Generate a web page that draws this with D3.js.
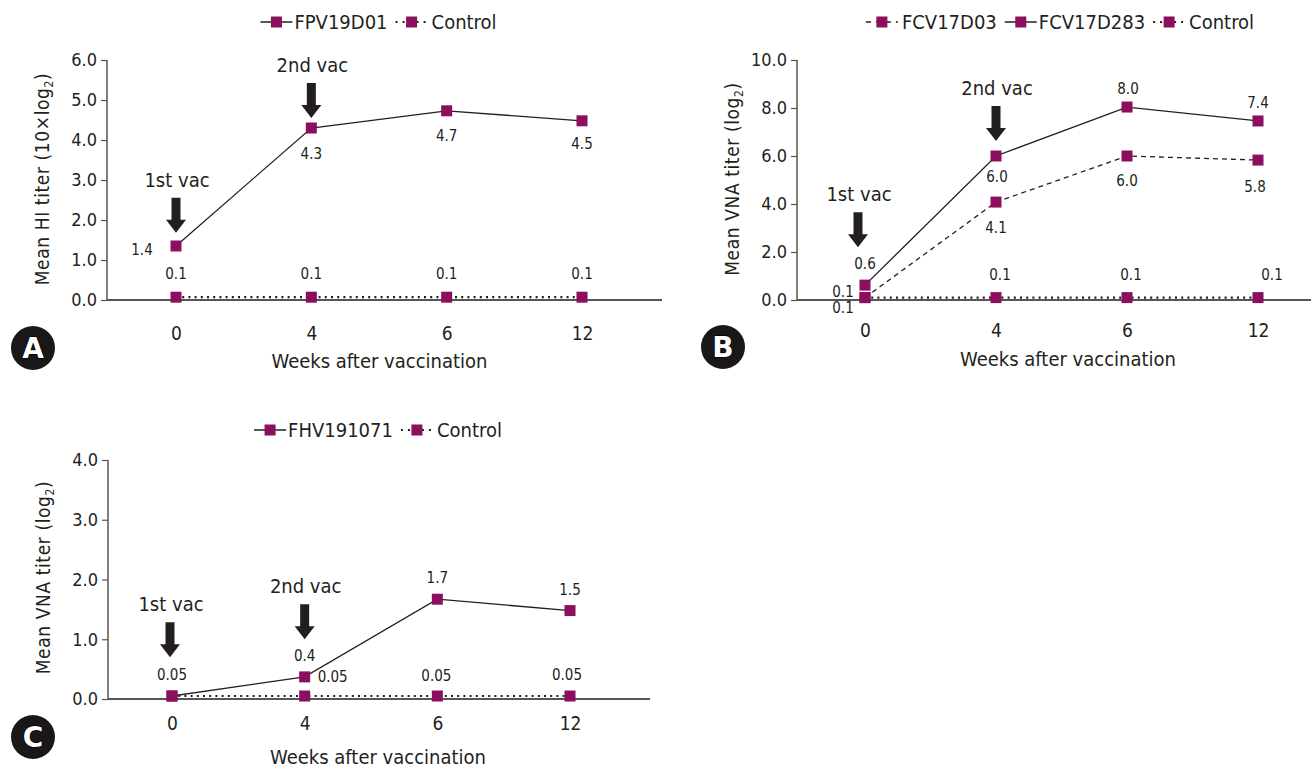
<!DOCTYPE html>
<html>
<head>
<meta charset="utf-8">
<script src="https://cdn.jsdelivr.net/npm/d3@7"></script>
<style>
  body { margin:0; background:#fff; }
  svg { display:block; }
  text { font-family: "Liberation Sans Narrow","DejaVu Sans Condensed","Roboto Condensed","Liberation Sans",sans-serif; fill:#231f20; }
</style>
</head>
<body>
<svg id="chart" width="1311" height="768"></svg>
<script>
// ---------------- DATA ----------------
const weeks = ["0", "4", "6", "12"];

// Panel A
const aTicks = [0, 1, 2, 3, 4, 5, 6];
const aFPV19D01 = [1.35, 4.3, 4.73, 4.48];
const aFPV19D01Labels = ["1.4", "4.3", "4.7", "4.5"];
const aControl = [0.07, 0.07, 0.07, 0.07];
const aControlLabels = ["0.1", "0.1", "0.1", "0.1"];

// Panel B
const bTicks = [0, 2, 4, 6, 8, 10];
const bFCV17D03 = [0.1, 4.08, 6.0, 5.83];
const bFCV17D03Labels = ["0.1", "4.1", "6.0", "5.8"];
const bFCV17D283 = [0.62, 6.0, 8.04, 7.46];
const bFCV17D283Labels = ["0.6", "6.0", "8.0", "7.4"];
const bControl = [0.1, 0.1, 0.1, 0.1];
const bControlLabels = ["0.1", "0.1", "0.1", "0.1"];

// Panel C
const cTicks = [0, 1, 2, 3, 4];
const cFHV191071 = [0.05, 0.37, 1.67, 1.48];
const cFHV191071Labels = ["0.05", "0.4", "1.7", "1.5"];
const cControl = [0.05, 0.05, 0.05, 0.05];
const cControlLabels = ["0.05", "0.05", "0.05", "0.05"];

const vacTexts = ["1st vac", "2nd vac"];
const vacWeeks = ["0", "4"];

// ---------------- STYLE / LAYOUT ----------------
const MARK = "#8c0f5d";
const INK = "#231f20";
const AXIS = "#555";
const svg = d3.select("#chart");

const panels = [
  {
    id: "A", left: 107, top: 60, bottom: 300, axisRight: 662, xr: [176, 582],
    ymax: 6, ticks: aTicks, ytitle: ["Mean HI titer (10×log", "2", ")"],
    badge: [33, 348], xlabelY: 333, xtitleY: 361, titleShift: -5, legendShift: -6,
    legendY: 22,
    series: [
      { name: "FPV19D01", values: aFPV19D01, labels: aFPV19D01Labels, dash: null,
        lab: [[-34, 4], [0, 26], [0, 25], [0, 23]] },
      { name: "Control", values: aControl, labels: aControlLabels, dash: "dot",
        lab: [[0, -23], [0, -23], [0, -23], [0, -23]] }
    ],
    vacTip: [1.68, 4.55]
  },
  {
    id: "B", left: 797, top: 60, bottom: 300, axisRight: 1311, xr: [865, 1258],
    ymax: 10, ticks: bTicks, ytitle: ["Mean VNA titer (log", "2", ")"],
    badge: [723, 347], xlabelY: 330, xtitleY: 359, titleShift: 14, legendShift: 6,
    legendY: 22,
    series: [
      { name: "FCV17D03", values: bFCV17D03, labels: bFCV17D03Labels, dash: "dash",
        lab: [[-22, -6], [0, 26], [0, 25], [-3, 27]] },
      { name: "FCV17D283", values: bFCV17D283, labels: bFCV17D283Labels, dash: null,
        lab: [[0, -21], [1, 21], [1, -18], [0, -18]] },
      { name: "Control", values: bControl, labels: bControlLabels, dash: "dot",
        lab: [[-22, 10], [4, -23], [4, -23], [14, -23]] }
    ],
    vacTip: [2.2, 6.63]
  },
  {
    id: "C", left: 108, top: 460, bottom: 699, axisRight: 650, xr: [172, 570],
    ymax: 4, ticks: cTicks, ytitle: ["Mean VNA titer (log", "2", ")"],
    badge: [33, 737], xlabelY: 723, xtitleY: 757, titleShift: -1, legendShift: -1,
    legendY: 430,
    series: [
      { name: "FHV191071", values: cFHV191071, labels: cFHV191071Labels, dash: null,
        lab: [[0, -21], [0, -21], [0, -21], [0, -21]] },
      { name: "Control", values: cControl, labels: cControlLabels, dash: "dot",
        lab: [[0, -999], [28, -19], [-1, -20], [-3, -21]] }
    ],
    vacTip: [0.70, 1.0]
  }
];

function dashArr(d) {
  if (d === "dash") return "5,4";
  if (d === "dot") return "2,4.2";
  return null;
}

function drawMarker(g, x, y, s) {
  g.append("rect").attr("x", x - s / 2).attr("y", y - s / 2)
    .attr("width", s).attr("height", s).attr("fill", MARK);
}

function arrowPath(x, tipY) {
  const len = 35, head = 13, sw = 4.5, hw = 10;
  const t = tipY - len;
  return `M${x - sw},${t} L${x + sw},${t} L${x + sw},${tipY - head} L${x + hw},${tipY - head} L${x},${tipY} L${x - hw},${tipY - head} L${x - sw},${tipY - head} Z`;
}

panels.forEach(p => {
  const g = svg.append("g");
  const x = d3.scalePoint().domain(weeks).range(p.xr);
  const y = d3.scaleLinear().domain([0, p.ymax]).range([p.bottom, p.top]);

  // y axis
  const yAxis = d3.axisLeft(y).tickValues(p.ticks).tickFormat(d3.format(".1f"))
    .tickSize(6).tickSizeOuter(0).tickPadding(4);
  const ya = g.append("g").attr("transform", `translate(${p.left},0)`).call(yAxis);
  ya.select(".domain").remove();
  ya.selectAll(".tick line").attr("stroke", AXIS).attr("stroke-width", 1.2);
  ya.selectAll(".tick text").style("font-size", "18px").attr("fill", INK);
  g.append("line").attr("x1", p.left).attr("x2", p.left)
    .attr("y1", y(p.ymax)).attr("y2", y(0)).attr("stroke", AXIS).attr("stroke-width", 1.5);

  // x axis
  const xAxis = d3.axisBottom(x).tickSize(0).tickPadding(0);
  const xa = g.append("g").attr("transform", `translate(0,${p.xlabelY})`).call(xAxis);
  xa.select(".domain").remove();
  xa.selectAll(".tick text").style("font-size", "19px").attr("dy", "0.35em").attr("fill", INK);
  g.append("line").attr("x1", p.left).attr("x2", p.axisRight)
    .attr("y1", y(0)).attr("y2", y(0)).attr("stroke", AXIS).attr("stroke-width", 1.8);

  // titles
  g.append("text").attr("x", (p.left + p.axisRight) / 2 + p.titleShift)
    .attr("y", p.xtitleY).attr("text-anchor", "middle").attr("dy", "0.35em")
    .style("font-size", "20px").text("Weeks after vaccination");

  const yt = g.append("text")
    .attr("transform", `translate(${p.left - 65},${(p.top + p.bottom) / 2 + (p.id === "C" ? -2 : -1)}) rotate(-90)`)
    .attr("text-anchor", "middle").attr("dy", "0.35em")
    .style("font-size", "19px").style("letter-spacing", "0.6px");
  yt.append("tspan").text(p.ytitle[0]);
  yt.append("tspan").attr("dy", "4").style("font-size", "12px").text(p.ytitle[1]);
  yt.append("tspan").attr("dy", "-4").text(p.ytitle[2]);

  // lines
  const line = d3.line().x((d, i) => x(weeks[i])).y(d => y(d));
  p.series.forEach(s => {
    g.append("path").datum(s.values).attr("d", line)
      .attr("fill", "none").attr("stroke", INK)
      .attr("stroke-width", s.dash === "dot" ? 2.2 : 1.3)
      .attr("stroke-dasharray", dashArr(s.dash));
  });
  // markers
  p.series.forEach(s => {
    s.values.forEach((v, i) => drawMarker(g, x(weeks[i]), y(v), 11));
  });
  // data labels
  p.series.forEach(s => {
    s.labels.forEach((l, i) => {
      if (s.lab[i][1] === -999) return;
      g.append("text").attr("x", x(weeks[i]) + s.lab[i][0])
        .attr("y", y(s.values[i]) + s.lab[i][1]).attr("dy", "0.35em")
        .attr("text-anchor", "middle").style("font-size", "15px").text(l);
    });
  });

  // vaccination arrows
  vacWeeks.forEach((w, i) => {
    const ax = x(w) + (p.id === "B" && i === 0 ? -7 : (p.id === "C" && i === 0 ? -2 : 0));
    const tip = y(p.vacTip[i]);
    g.append("path").attr("d", arrowPath(ax, tip)).attr("fill", INK);
    g.append("text").attr("x", ax + 1).attr("y", tip - 53).attr("dy", "0.35em")
      .attr("text-anchor", "middle").style("font-size", "20px").text(vacTexts[i]);
  });

  // legend
  const leg = g.append("g");
  let cx = 0;
  p.series.forEach(s => {
    const it = leg.append("g");
    const sym = it.append("g");
    sym.append("line").attr("x1", 0).attr("x2", 32).attr("y1", 0).attr("y2", 0)
      .attr("stroke", INK).attr("stroke-width", s.dash === "dot" ? 2.2 : 1.4)
      .attr("stroke-dasharray", s.dash === "dash" ? "5,5" : (s.dash === "dot" ? "2,5" : null));
    drawMarker(sym, 16, 0, 11);
    const off = s.dash === null ? 34 : 36;
    const t = it.append("text").attr("x", off).attr("y", 0).attr("dy", "0.35em")
      .style("font-size", "20px").text(s.name);
    const w = off + t.node().getComputedTextLength();
    it.attr("transform", `translate(${cx},0)`);
    cx += w + 8;
  });
  const total = cx - 8;
  const center = (p.left + p.axisRight) / 2 + p.legendShift;
  leg.attr("transform", `translate(${center - total / 2},${p.legendY})`);

  // badge
  const bg = g.append("g").attr("transform", `translate(${p.badge[0]},${p.badge[1]})`);
  bg.append("circle").attr("r", 22).attr("fill", "#1a1718");
  bg.append("text").attr("text-anchor", "middle").attr("dy", "0.36em")
    .style("font-family", "'DejaVu Sans','Liberation Sans',sans-serif")
    .style("font-size", "28px").style("font-weight", "bold")
    .style("fill", "#fff").attr("stroke", "#000").attr("stroke-width", 1.5)
    .attr("paint-order", "stroke").text(p.id);
});
</script>
</body>
</html>
